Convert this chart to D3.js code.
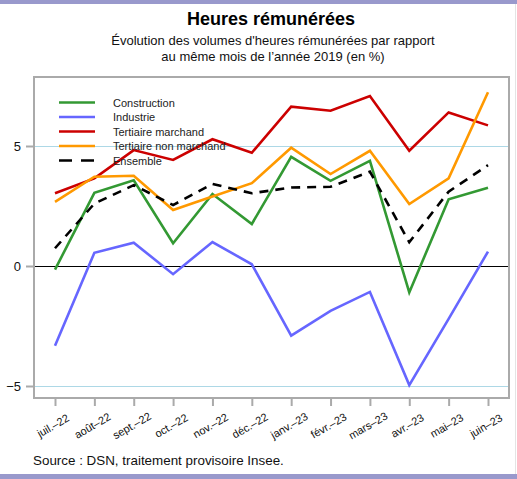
<!DOCTYPE html>
<html><head><meta charset="utf-8">
<script src="https://cdn.jsdelivr.net/npm/d3@7"></script>
<style>body{margin:0;background:#fff}svg{display:block;font-family:"Liberation Sans",Arial,sans-serif}</style>
</head><body><svg id="c" width="517" height="479"></svg>
<script>
const months = ["juil.–22","août–22","sept.–22","oct.–22","nov.–22","déc.–22","janv.–23","févr.–23","mars–23","avr.–23","mai–23","juin–23"];
const construction = [-0.15,3.05,3.57,0.95,3.0,1.75,4.55,3.55,4.38,-1.1,2.78,3.26];
const industrie = [-3.32,0.55,0.97,-0.34,1.0,0.07,-2.9,-1.87,-1.08,-4.96,-2.2,0.6];
const tertMarchand = [3.03,3.65,4.83,4.42,5.28,4.72,6.64,6.47,7.08,4.8,6.4,5.86];
const tertNonMarchand = [2.67,3.72,3.76,2.33,2.9,3.45,4.93,3.83,4.8,2.58,3.65,7.24];
const ensemble = [0.74,2.6,3.37,2.54,3.42,3.03,3.27,3.3,3.93,0.99,3.1,4.2];
const yTicks = [-5,0,5];
const seriesNames = ["Construction","Industrie","Tertiaire marchand","Tertiaire non marchand","Ensemble"];

const series = [
  {name:seriesNames[0], values:construction, color:"#339933", dash:null},
  {name:seriesNames[1], values:industrie, color:"#6666ff", dash:null},
  {name:seriesNames[2], values:tertMarchand, color:"#cc0000", dash:null},
  {name:seriesNames[3], values:tertNonMarchand, color:"#ff9900", dash:null},
  {name:seriesNames[4], values:ensemble, color:"#000000", dash:"9,7"}
];

const svg = d3.select("#c");
const L=34, R=509, T=77, B=398;
const x = d3.scalePoint().domain(months).range([55,488]);
const y = d3.scaleLinear().domain([-5.5,7.875]).range([B,T]);

// bands
svg.append("rect").attr("x",0).attr("y",0).attr("width",517).attr("height",4).attr("fill","#9999cc");
svg.append("rect").attr("x",0).attr("y",474).attr("width",517).attr("height",5).attr("fill","#9999cc");
svg.append("line").attr("x1",515.5).attr("x2",515.5).attr("y1",4).attr("y2",474).attr("stroke","#e4e4e4");

// title
svg.append("text").attr("x",271).attr("y",25).attr("text-anchor","middle")
  .attr("font-size",18).attr("font-weight","bold").attr("fill","#000").text("Heures rémunérées");
svg.append("text").attr("x",273).attr("y",45).attr("text-anchor","middle")
  .attr("font-size",13).attr("fill","#111").text("Évolution des volumes d'heures rémunérées par rapport");
svg.append("text").attr("x",273).attr("y",61).attr("text-anchor","middle")
  .attr("font-size",13).attr("fill","#111").text("au même mois de l’année 2019 (en %)");

// gridlines
yTicks.forEach(v=>{
  svg.append("line").attr("x1",L).attr("x2",R).attr("y1",y(v)+0.5).attr("y2",y(v)+0.5)
    .attr("stroke", v===0 ? "#000" : "#add8e6").attr("stroke-width", 1);
});

// y axis ticks
const yAxis = d3.axisLeft(y).tickValues(yTicks).tickSize(7).tickPadding(5)
  .tickFormat(d=> d<0 ? "−"+Math.abs(d) : d);
const gy = svg.append("g").attr("transform",`translate(${L-1},0)`).call(yAxis);
gy.select(".domain").remove();
gy.selectAll(".tick line").attr("stroke","#aaa").attr("stroke-width",2);
gy.selectAll(".tick text").attr("font-size",13).attr("fill","#111").attr("font-family","Liberation Sans, Arial, sans-serif");

// x axis ticks
const xAxis = d3.axisBottom(x).tickSize(7).tickFormat("");
const gx = svg.append("g").attr("transform",`translate(0,${B+1})`).call(xAxis);
gx.select(".domain").remove();
gx.selectAll(".tick line").attr("stroke","#aaa").attr("stroke-width",2);
months.forEach(m=>{
  svg.append("text").attr("transform",`translate(${x(m)},429) rotate(-30)`)
    .attr("text-anchor","middle").attr("font-size",11).attr("fill","#111").text(m);
});

// lines
const line = d3.line().x((d,i)=>x(months[i])).y(d=>y(d));
series.forEach(s=>{
  svg.append("path").datum(s.values).attr("d",line).attr("fill","none")
    .attr("stroke",s.color).attr("stroke-width",2.6).attr("stroke-linejoin","miter")
    .attr("stroke-dasharray",s.dash);
});

// box
svg.append("rect").attr("x",L).attr("y",T).attr("width",R-L).attr("height",B-T)
  .attr("fill","none").attr("stroke","#aaa").attr("stroke-width",2);

// legend
series.forEach((s,i)=>{
  const yy = 102.5 + i*14.5;
  svg.append("line").attr("x1",59).attr("x2",95).attr("y1",yy).attr("y2",yy)
    .attr("stroke",s.color).attr("stroke-width",2.6).attr("stroke-dasharray", s.dash ? "13,9" : null);
  svg.append("text").attr("x",113).attr("y",yy+4).attr("font-size",11).attr("fill","#222").text(s.name);
});

// source
svg.append("text").attr("x",33).attr("y",465).attr("font-size",13.4).attr("fill","#111")
  .text("Source : DSN, traitement provisoire Insee.");
</script></body></html>
